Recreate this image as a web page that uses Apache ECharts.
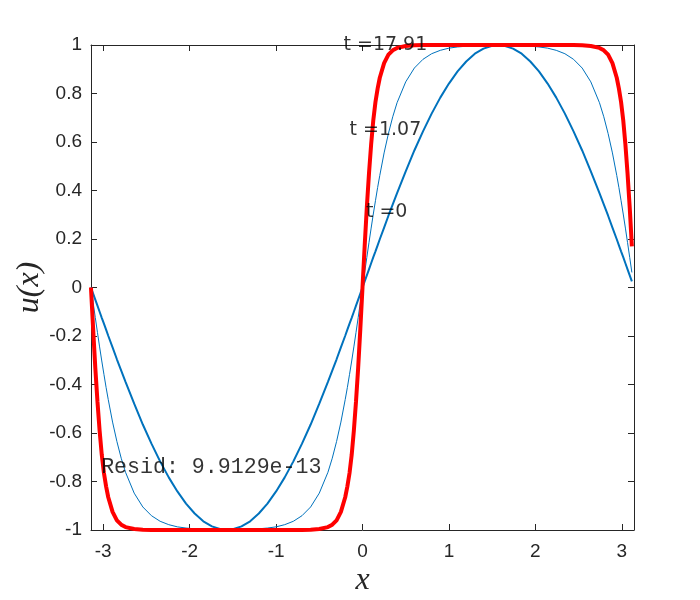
<!DOCTYPE html>
<html>
<head>
<meta charset="utf-8">
<script src="https://cdn.jsdelivr.net/npm/echarts@6/dist/echarts.min.js"></script>
<style>html,body{margin:0;padding:0;background:#fff}#c{width:700px;height:600px}</style>
</head>
<body>
<div id="c"></div>
<script>
// x positions of the sampled points
const xGrid = [
 -3.142,-3.117,-3.092,-3.067,-3.042,-3.017,-2.992,-2.967,-2.942,-2.892,-2.842,-2.792,-2.742,-2.642,-2.542,-2.442,-2.342,-2.242,-2.142,-2.042,-1.942,-1.842,-1.742,-1.642,
 -1.571,
 -1.5,-1.4,-1.3,-1.2,-1.1,-1.0,-0.9,-0.8,-0.7,-0.6,-0.5,-0.4,-0.35,-0.3,-0.25,-0.2,-0.175,-0.15,-0.125,-0.1,-0.075,-0.05,-0.025,
 0,
 0.025,0.05,0.075,0.1,0.125,0.15,0.175,0.2,0.25,0.3,0.35,0.4,0.5,0.6,0.7,0.8,0.9,1.0,1.1,1.2,1.3,1.4,1.5,
 1.571,
 1.642,1.742,1.842,1.942,2.042,2.142,2.242,2.342,2.442,2.542,2.642,2.742,2.792,2.842,2.892,2.942,2.967,2.992,3.017,3.042,3.067,3.092,3.117
];
// t = 0
const uT0 = [
 0,-0.025,-0.05,-0.075,-0.1,-0.125,-0.149,-0.174,-0.199,-0.247,-0.296,-0.343,-0.389,-0.479,-0.565,-0.644,-0.717,-0.783,-0.841,-0.891,-0.932,-0.964,-0.985,-0.997,
 -1,
 -0.997,-0.985,-0.964,-0.932,-0.891,-0.841,-0.783,-0.717,-0.644,-0.565,-0.479,-0.389,-0.343,-0.296,-0.247,-0.199,-0.174,-0.149,-0.125,-0.1,-0.075,-0.05,-0.025,
 0,
 0.025,0.05,0.075,0.1,0.125,0.149,0.174,0.199,0.247,0.296,0.343,0.389,0.479,0.565,0.644,0.717,0.783,0.841,0.891,0.932,0.964,0.985,0.997,
 1,
 0.997,0.985,0.964,0.932,0.891,0.841,0.783,0.717,0.644,0.565,0.479,0.389,0.343,0.296,0.247,0.199,0.174,0.149,0.125,0.1,0.075,0.05,0.025
];
// t = 1.07
const uT1 = [
 0,-0.062,-0.124,-0.185,-0.245,-0.303,-0.358,-0.412,-0.462,-0.555,-0.635,-0.704,-0.762,-0.848,-0.905,-0.941,-0.964,-0.978,-0.987,-0.992,-0.995,-0.997,-0.998,-0.999,
 -1,
 -0.999,-0.998,-0.997,-0.995,-0.992,-0.987,-0.978,-0.964,-0.941,-0.905,-0.848,-0.762,-0.704,-0.635,-0.555,-0.462,-0.412,-0.358,-0.303,-0.245,-0.185,-0.124,-0.062,
 0,
 0.062,0.124,0.185,0.245,0.303,0.358,0.412,0.462,0.555,0.635,0.704,0.762,0.848,0.905,0.941,0.964,0.978,0.987,0.992,0.995,0.997,0.998,0.999,
 1,
 0.999,0.998,0.997,0.995,0.992,0.987,0.978,0.964,0.941,0.905,0.848,0.762,0.704,0.635,0.555,0.462,0.412,0.358,0.303,0.245,0.185,0.124,0.062
];
// t = 17.91
const uT2 = [
 0,-0.17,-0.33,-0.47,-0.59,-0.69,-0.765,-0.82,-0.865,-0.925,-0.96,-0.978,-0.988,-0.996,-0.999,-1,-1,-1,-1,-1,-1,-1,-1,-1,
 -1,
 -1,-1,-1,-1,-1,-1,-1,-1,-1,-0.999,-0.996,-0.988,-0.978,-0.96,-0.925,-0.865,-0.82,-0.765,-0.69,-0.59,-0.47,-0.33,-0.17,
 0,
 0.17,0.33,0.47,0.59,0.69,0.765,0.82,0.865,0.925,0.96,0.978,0.988,0.996,0.999,1,1,1,1,1,1,1,1,1,
 1,
 1,1,1,1,1,1,1,1,1,0.999,0.996,0.988,0.978,0.96,0.925,0.865,0.82,0.765,0.69,0.59,0.47,0.33,0.17
];
const xTicks = [-3,-2,-1,0,1,2,3];
const yTicks = [-1,-0.8,-0.6,-0.4,-0.2,0,0.2,0.4,0.6,0.8,1];
const labelText = ['t =0','t =1.07','t =17.91'];
const labelX = [0.04,-0.15,-0.22];
const labelY = [0.313,0.65,1.0];
const residText = 'Resid: 9.9129e-13';
const residX = -3.024;
const residY = -0.74;

const axisColor = '#262626';
const tickFont = 'Liberation Sans, Helvetica, Arial, sans-serif';
const pts = ys => xGrid.map((x,i)=>[x, ys[i]]);

const chart = echarts.init(document.getElementById('c'), null, {renderer:'canvas'});
const baseX = {
  type:'value', min:-Math.PI, max:Math.PI,
  axisLine:{onZero:false, lineStyle:{color:axisColor, width:1}},
  axisTick:{inside:true, length:6, customValues:xTicks, lineStyle:{color:axisColor}},
  splitLine:{show:false}
};
const baseY = {
  type:'value', min:-1, max:1,
  axisLine:{onZero:false, lineStyle:{color:axisColor, width:1}},
  axisTick:{inside:true, length:6, customValues:yTicks, lineStyle:{color:axisColor}},
  splitLine:{show:false}
};
chart.setOption({
  animation:false,
  backgroundColor:'#ffffff',
  grid:{left:91, right:66, top:45, bottom:70, containLabel:false, outerBoundsMode:'none'},
  xAxis:[
    Object.assign({}, baseX, {position:'bottom',
      axisLabel:{customValues:xTicks, fontSize:19, color:axisColor, margin:12, fontFamily:tickFont},
      name:'x', nameLocation:'middle', nameGap:35, nameMoveOverlap:false,
      nameTextStyle:{fontFamily:'Liberation Serif, serif', fontStyle:'italic', fontSize:32, color:axisColor}}),
    Object.assign({}, baseX, {position:'top', axisLabel:{show:false}})
  ],
  yAxis:[
    Object.assign({}, baseY, {position:'left',
      axisLabel:{customValues:yTicks, fontSize:19, color:axisColor, margin:9, fontFamily:tickFont,
        formatter:v=>String(Math.round(v*10)/10)},
      name:'u(x)', nameLocation:'middle', nameGap:45, nameRotate:90, nameMoveOverlap:false,
      nameTextStyle:{fontFamily:'Liberation Serif, serif', fontStyle:'italic', fontSize:32, color:axisColor}}),
    Object.assign({}, baseY, {position:'right', axisLabel:{show:false}})
  ],
  series:[
    {type:'line', data:pts(uT0), showSymbol:false, clip:false, lineStyle:{color:'#0072BD', width:2}, z:2},
    {type:'line', data:pts(uT1), showSymbol:false, clip:false, lineStyle:{color:'#0072BD', width:1}, z:3},
    {type:'line', data:pts(uT2), showSymbol:false, clip:false, lineStyle:{color:'#FF0000', width:4}, z:4},
    {type:'scatter', symbolSize:0, z:10, silent:true,
      data:labelText.map((t,i)=>({value:[labelX[i], labelY[i]], name:t})),
      label:{show:true, position:'right', distance:0, formatter:p=>p.name,
        fontFamily:'DejaVu Sans, sans-serif', fontSize:19, color:'#000'}},
    {type:'scatter', symbolSize:0, z:10, silent:true,
      data:[{value:[residX, residY], name:residText}],
      label:{show:true, position:'right', distance:0, formatter:p=>p.name,
        fontFamily:'Liberation Mono, Courier New, monospace', fontSize:21.6, color:'#000'}}
  ]
});
</script>
</body>
</html>
